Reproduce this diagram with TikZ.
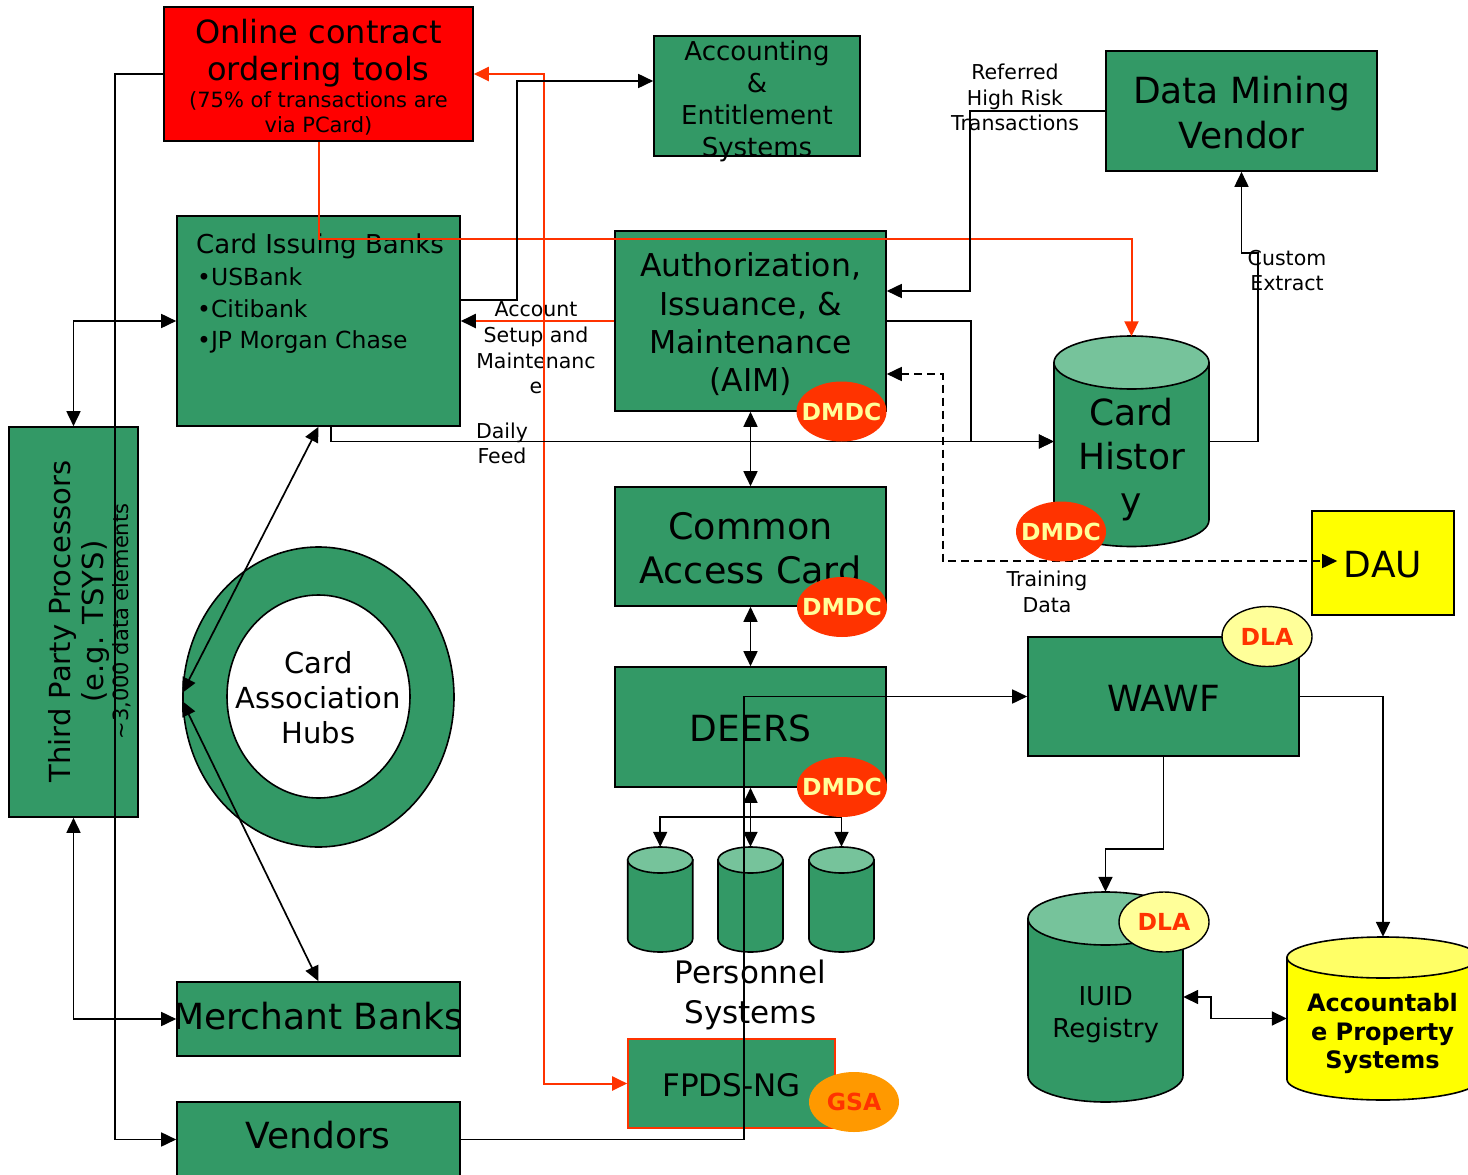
\documentclass[tikz,border=0pt]{standalone}
\usepackage{fontspec}
\setmainfont{DejaVu Sans}
\usetikzlibrary{arrows.meta,shapes.geometric,calc}
\definecolor{gr}{HTML}{339966}
\definecolor{grl}{HTML}{76C39B}
\definecolor{ored}{HTML}{FF3300}
\definecolor{lyel}{HTML}{FFFF99}
\definecolor{yel}{HTML}{FFFF00}
\definecolor{yell}{HTML}{FFFF66}
\definecolor{gsao}{HTML}{FF9900}
\newcommand\fsz[2]{\fontsize{#1}{#2}\selectfont}
\newcommand\drawcyl[7]{%
  \filldraw[fill=#6, line width=1.6pt] ({#1-#4},{-#2}) -- ({#1-#4},{-#3})
    arc[start angle=180, end angle=360, x radius=#4pt, y radius=#5pt] -- ({#1+#4},{-#2}) -- cycle;
  \filldraw[fill=#7, line width=1.6pt] (#1,{-#2}) ellipse[x radius=#4pt, y radius=#5pt];}
\tikzset{
  gbox/.style={draw=black, line width=1.6pt, fill=gr, inner sep=0pt},
  conn/.style={line width=1.7pt, draw=black},
  rline/.style={line width=2pt, draw=ored},
  badge/.style={ellipse, inner sep=0pt, minimum width=90pt, minimum height=60pt},
  txt/.style={inner sep=0pt, align=center},
  anch/.style={inner sep=0pt, draw=none},
  dmdcf/.style={font=\fsz{23.5}{28}\bfseries, text=lyel, inner sep=0pt},
  dlaf/.style={font=\fsz{23.5}{28}\bfseries, text=ored, inner sep=0pt},
}
\begin{document}
\begin{tikzpicture}[x=1pt,y=1pt,>={Triangle[length=15pt,width=14pt]}]
\useasboundingbox (0,0) rectangle (1468,-1175);
\fill[white] (0,0) rectangle (1468,-1175);

% ---------- boxes ----------
\node[gbox, fill=red, minimum width=309pt, minimum height=134pt] (online) at (318.5,-74) {};
\node[txt, font=\fsz{32}{37.5}] (onT1) at (318.5,-53.4) {Online contract\\ordering tools};
\node[txt, font=\fsz{21}{25}] (onT2) at (318.5,-113.4) {(75\% of transactions are\\via PCard)};

\node[gbox, minimum width=206pt, minimum height=120pt] (acct) at (757,-96) {};
\node[txt, font=\fsz{26}{32}] (acctT) at (757,-101.1) {Accounting\\\&\\Entitlement\\Systems};

\node[gbox, minimum width=271pt, minimum height=120pt] (dmv) at (1241.5,-111) {};
\node[txt, font=\fsz{36}{45}] (dmvT) at (1241.5,-112.1) {Data Mining\\Vendor};

\node[gbox, minimum width=283pt, minimum height=210pt] (cib) at (318.5,-321) {};
\node[txt, font=\fsz{26}{32}, anchor=base west] (cibT) at (196,-253) {Card Issuing Banks};
\node[txt, font=\fsz{23.5}{28}, anchor=base west] (cib1) at (197,-285) {\textbullet USBank};
\node[txt, font=\fsz{23.5}{28}, anchor=base west] (cib2) at (197,-317) {\textbullet Citibank};
\node[txt, font=\fsz{23.5}{28}, anchor=base west] (cib3) at (197,-348) {\textbullet JP Morgan Chase};

\node[gbox, minimum width=271pt, minimum height=180pt] (aim) at (750.5,-321) {};
\node[txt, font=\fsz{31.5}{38.3}] (aimT) at (750.5,-324.3) {Authorization,\\Issuance, \&\\Maintenance\\(AIM)};

\node[gbox, minimum width=271pt, minimum height=119pt] (cac) at (750.5,-546.5) {};
\node[txt, font=\fsz{36.5}{44}] (cacT) at (750.5,-548) {Common\\Access Card};

\node[gbox, minimum width=271pt, minimum height=120pt] (deers) at (750.5,-727) {};
\node[txt, font=\fsz{36}{44}, anchor=base] (deersT) at (750.5,-741.7) {DEERS};

\node[gbox, minimum width=271pt, minimum height=119pt] (wawf) at (1163.5,-696.5) {};
\node[txt, font=\fsz{36}{44}, anchor=base] (wawfT) at (1163.5,-711.7) {WAWF};

\node[gbox, fill=yel, minimum width=142pt, minimum height=104pt] (dau) at (1383,-563) {};
\node[txt, font=\fsz{36}{44}, anchor=base] (dauT) at (1383,-577.3) {DAU};

\node[gbox, minimum width=129pt, minimum height=390pt] (tpp) at (73.5,-622) {};
\node[txt, font=\fsz{29}{33.3}, rotate=90] (tppT) at (79,-621.5) {Third Party Processors\\(e.g. TSYS)};
\node[txt, font=\fsz{21}{25}, rotate=90] (tppD) at (122,-621.5) {\textasciitilde 3,000 data elements};

\node[gbox, minimum width=283pt, minimum height=74pt] (merch) at (318.5,-1019) {};
\node[txt, font=\fsz{36}{44}, anchor=base] (merchT) at (318.3,-1029.3) {Merchant Banks};

\node[gbox, minimum width=283pt, minimum height=75pt] (vend) at (318.5,-1139.5) {};
\node[txt, font=\fsz{36}{44}, anchor=base] (vendT) at (318,-1148.3) {Vendors};

\node[gbox, draw=ored, minimum width=207pt, minimum height=89pt] (fpds) at (731.5,-1083.5) {};
\node[txt, font=\fsz{31}{38}, anchor=base] (fpdsT) at (731.7,-1096.7) {FPDS-NG};

% ---------- card association hubs ----------
\node[ellipse, draw=black, line width=1.6pt, fill=gr, minimum width=271pt, minimum height=300pt, inner sep=0pt] (hubs) at (318.5,-697) {};
\node[ellipse, draw=black, line width=1.6pt, fill=white, minimum width=183pt, minimum height=203pt, inner sep=0pt] (hubsIn) at (318.5,-696.5) {};
\node[txt, font=\fsz{29}{35}] (hubsT) at (318.5,-697.3) {Card\\Association\\Hubs};

% ---------- cylinders ----------
\drawcyl{1131.5}{362.5}{520}{77.5}{26.5}{gr}{grl}
\node[anch, minimum width=155pt, minimum height=210pt] (ch) at (1131.5,-441.5) {};
\node[txt, font=\fsz{36}{44}] (chT) at (1131.5,-459.6) {Card\\Histor\\y};

\drawcyl{1105.5}{918.5}{1075.5}{77.5}{26.5}{gr}{grl}
\node[anch, minimum width=155pt, minimum height=210pt] (iuid) at (1105.5,-997) {};
\node[txt, font=\fsz{26}{32}] (iuidT) at (1105.7,-1014.6) {IUID\\Registry};

\drawcyl{1383}{957.5}{1079.5}{96}{20.5}{yel}{yell}
\node[anch, minimum width=192pt, minimum height=163pt] (ap) at (1383,-1018.5) {};
\node[txt, font=\fsz{24}{28.3}\bfseries] (apT) at (1382.5,-1033.7) {Accountabl\\e Property\\Systems};

\drawcyl{660.2}{860}{939}{32.5}{13}{gr}{grl}
\drawcyl{750.5}{860}{939}{32.5}{13}{gr}{grl}
\drawcyl{841.5}{860}{939}{32.5}{13}{gr}{grl}
\node[anch, minimum width=65pt, minimum height=105pt] (cyl1) at (660.2,-899.5) {};
\node[anch, minimum width=65pt, minimum height=105pt] (cyl2) at (750.5,-899.5) {};
\node[anch, minimum width=65pt, minimum height=105pt] (cyl3) at (841.5,-899.5) {};
\node[txt, font=\fsz{31}{39.4}] (persT) at (750.3,-994.9) {Personnel\\Systems};

% ---------- connector labels ----------
\node[txt, font=\fsz{20.5}{25.5}] (refT) at (1015,-97.7) {Referred\\High Risk\\Transactions};
\node[txt, font=\fsz{20.5}{25.8}] (accT) at (536,-347.9) {Account\\Setup and\\Maintenanc\\e};
\node[txt, font=\fsz{20.5}{25}] (dailyT) at (502,-443) {Daily\\Feed};
\node[txt, font=\fsz{20.5}{25}] (custT) at (1287,-270.7) {Custom\\Extract};
\node[txt, font=\fsz{20.5}{26}] (trainT) at (1047,-591.5) {Training\\Data};

% ---------- connectors ----------
\draw[rline,->] (online.south) -- ++(0,-97.5) -| (ch.north);
\draw[rline,<->] (online.east) -- ++(70.5,0) |- (fpds.west);
\draw[rline,-{Triangle[length=15pt,width=14pt,color=black]}] (aim.west) -- (cib.east);
\draw[conn,->] (online.west) -- ++(-48,0) |- (vend.west);
\draw[conn,->] ([yshift=21pt]cib.east) -- ++(56.5,0) |- ([yshift=15pt]acct.west);
\draw[conn,->] (dmv.west) -- ++(-135,0) |- ([yshift=30pt]aim.east);
\draw[conn,->] (aim.east) -- ++(84,0) |- (ch.west);
\draw[conn,->] ([xshift=12.5pt]cib.south) |- (ch.west);
\draw[conn,->] (ch.east) -- ++(48.5,0) -- ++(0,188.5) -| (dmv.south);
\draw[conn,<->,dash pattern=on 8pt off 5pt] ([yshift=-53pt]aim.east) -- ++(56,0) |- ([xshift=26pt,yshift=2pt]dau.west);
\draw[conn,<->] (aim.south) -- (cac.north);
\draw[conn,<->] (cac.south) -- (deers.north);
\draw[conn,<->] (deers.south) -- (cyl2.north);
\draw[conn,->] ($(deers.south)!0.5!(cyl2.north)$) -| (cyl1.north);
\draw[conn,->] ($(deers.south)!0.5!(cyl2.north)$) -| (cyl3.north);
\draw[conn,->] (vend.east) -- ++(283.5,0) |- (wawf.west);
\draw[conn,->] (wawf.east) -| (ap.north);
\draw[conn,->] (wawf.south) -- ++(0,-92.5) -| (iuid.north);
\draw[conn,<->] (iuid.east) -- ++(28,0) |- (ap.west);
\draw[conn,<->] (tpp.north) |- (cib.west);
\draw[conn,<->] (tpp.south) |- (merch.west);
\draw[conn,<->] (cib.south) -- ([yshift=4pt]hubs.west);
\draw[conn,<->] ([yshift=-4pt]hubs.west) -- (merch.north);

% ---------- badges ----------
\node[badge, fill=ored, label={[dmdcf]center:DMDC}] (dmdc1) at (841.5,-411.5) {};
\node[badge, fill=ored, label={[dmdcf]center:DMDC}] (dmdc2) at (842,-607) {};
\node[badge, fill=ored, label={[dmdcf]center:DMDC}] (dmdc3) at (842,-787) {};
\node[badge, fill=ored, label={[dmdcf]center:DMDC}] (dmdc4) at (1061,-531.5) {};
\node[badge, fill=lyel, draw=black, line width=1.4pt, label={[dlaf]center:DLA}] (dla1) at (1267,-636.5) {};
\node[badge, fill=lyel, draw=black, line width=1.4pt, label={[dlaf]center:DLA}] (dla2) at (1164,-922) {};
\node[badge, fill=gsao, label={[dlaf]center:GSA}] (gsa) at (854,-1102) {};
\end{tikzpicture}
\end{document}
